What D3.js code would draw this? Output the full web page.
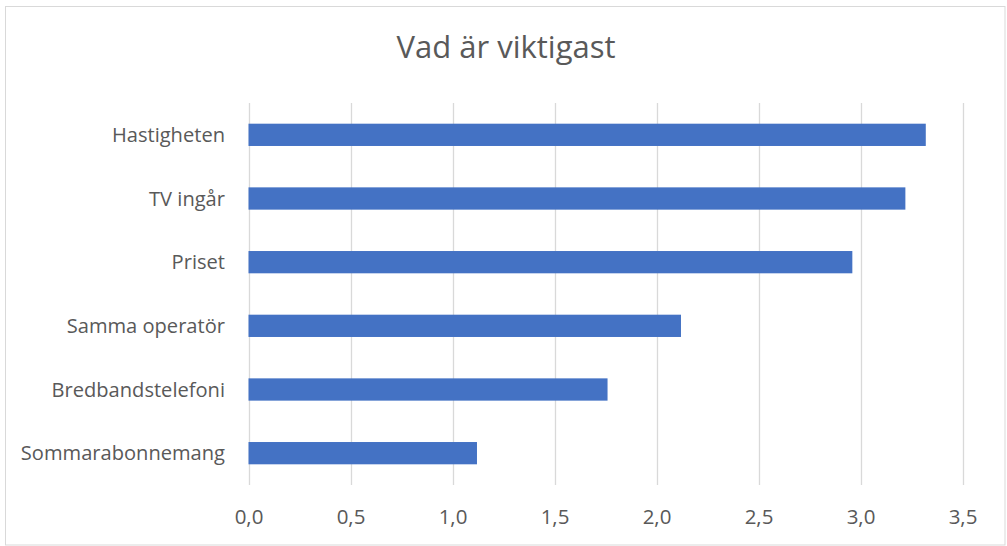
<!DOCTYPE html>
<html><head><meta charset="utf-8">
<script src="https://cdn.jsdelivr.net/npm/d3@7"></script>
<style>body{margin:0;background:#fff}svg{display:block}text{font-family:"Open Sans",sans-serif;fill:#595959}</style>
</head><body><svg id="c" width="1007" height="546"></svg>
<script>
const title = "Vad är viktigast";
const categories = ["Hastigheten","TV ingår","Priset","Samma operatör","Bredbandstelefoni","Sommarabonnemang"];
const values = [3.32,3.22,2.96,2.12,1.76,1.12];
const ticks = [0,0.5,1.0,1.5,2.0,2.5,3.0,3.5];

const svg = d3.select("#c");
svg.append("rect").attr("x",5.5).attr("y",6.5).attr("width",999.5).attr("height",538.5)
  .attr("fill","#fff").attr("stroke","#d9d9d9").attr("stroke-width",1);

const x = d3.scaleLinear().domain([0,3.5]).range([248.5,962.5]);
const y = d3.scaleBand().domain(categories).range([103,485]).paddingInner(0.65).paddingOuter(0.325);

const g = svg.append("g");
g.selectAll(".grid").data(ticks).join("line").attr("class","grid")
  .attr("x1",d=>Math.round(x(d))+0.5).attr("x2",d=>Math.round(x(d))+0.5)
  .attr("y1",103).attr("y2",485).attr("stroke","#d9d9d9").attr("stroke-width",1.3);

g.selectAll(".bar").data(values).join("rect").attr("class","bar")
  .attr("x",x(0)).attr("y",(d,i)=>y(categories[i]))
  .attr("width",d=>x(d)-x(0)).attr("height",y.bandwidth())
  .attr("fill","#4472C4");

const fmt = d=>d3.format(".1f")(d).replace(".",",");
const xa = svg.append("g").attr("transform","translate(0,485)")
  .call(d3.axisBottom(x).tickValues(ticks).tickFormat(fmt).tickSize(0).tickPadding(0));
xa.select(".domain").remove();
xa.selectAll("text").attr("dy",null).attr("y",39).attr("font-size",20.5).style("font-family","Open Sans").attr("fill","#595959");

const ya = svg.append("g").attr("transform","translate(248,0)")
  .call(d3.axisLeft(y).tickSize(0).tickPadding(23));
ya.select(".domain").remove();
ya.selectAll("text").attr("dy",null).attr("y",7).attr("font-size",20.1).style("font-family","Open Sans").attr("fill","#595959");

svg.append("text").attr("x",506).attr("y",58).attr("text-anchor","middle")
  .attr("font-size",31).text(title);
</script></body></html>
